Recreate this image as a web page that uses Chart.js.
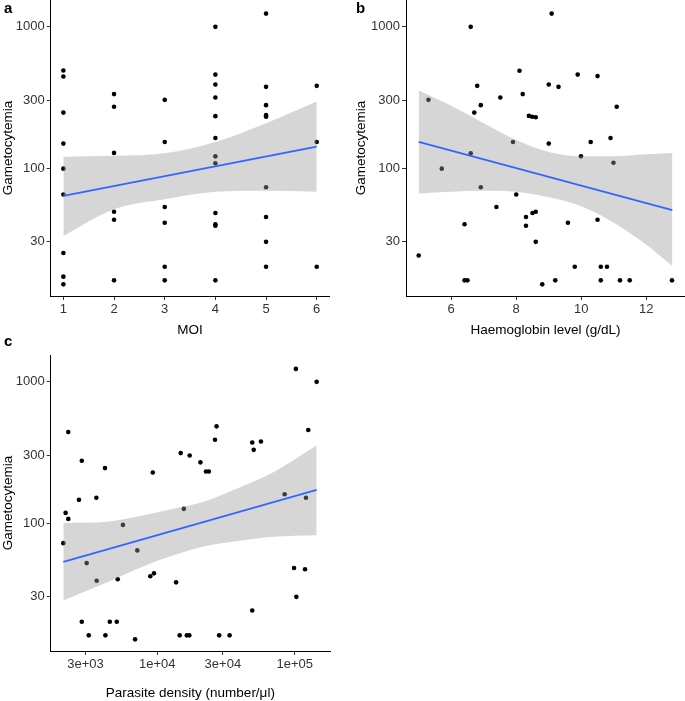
<!DOCTYPE html>
<html>
<head>
<meta charset="utf-8">
<script src="https://cdn.jsdelivr.net/npm/chart.js@4.4.0/dist/chart.umd.min.js"></script>
<style>
    html, body { margin: 0; padding: 0; background: #fff; }
    #page { position: relative; width: 685px; height: 701px; overflow: hidden; font-family: 'Liberation Sans', Arial, sans-serif; }
    .panel { position: absolute; }
    .panel canvas { display: block; }
    .tag { position: absolute; font-weight: bold; font-size: 15px; line-height: 15px; color: #000; }
</style>
</head>
<body>
<div id="page">
    <div class="panel" style="left:0px;top:0px"><canvas id="chart-a" width="335" height="340"></canvas></div>
    <div class="panel" style="left:353px;top:0px"><canvas id="chart-b" width="332" height="340"></canvas></div>
    <div class="panel" style="left:0px;top:330px"><canvas id="chart-c" width="335" height="371"></canvas></div>
    <div class="tag" style="left:4px;top:0px">a</div>
    <div class="tag" style="left:356px;top:0px">b</div>
    <div class="tag" style="left:4px;top:333px">c</div>
</div>
<script>
// Gametocytemia vs MOI, haemoglobin and parasite density (log y, lm fit + 95% band)

// shared y axis
const yTicks = [30, 100, 300, 1000];
const yMin = 12.4;
const yMax = 1550;

// panel a - MOI
const moiX = [1, 1, 1, 1, 1, 1, 1, 1, 1,
    2, 2, 2, 2, 2, 2,
    3, 3, 3, 3, 3, 3,
    4, 4, 4, 4, 4, 4, 4, 4, 4, 4, 4, 4,
    5, 5, 5, 5, 5, 5, 5, 5, 5,
    6, 6, 6];
const moiY = [491, 445, 247, 149, 99, 65, 25, 17, 15,
    334, 272, 128, 49, 43, 16,
    304, 153, 53, 41, 20, 16,
    1000, 459, 391, 316, 233, 163, 121, 108, 48, 40, 39, 16,
    1242, 376, 279, 237, 231, 73, 45, 30, 20,
    382, 153, 20];
const moiFitX = [1, 6];
const moiFitY = [63.6, 142];
const moiBandX = [1, 2, 3, 4, 5, 6];
const moiBandHi = [120, 122, 127, 153, 208, 296];
const moiBandLo = [33, 51, 60, 68, 69, 68];
const moiTicks = [1, 2, 3, 4, 5, 6];
const moiTickLabels = ['1', '2', '3', '4', '5', '6'];

// panel b - haemoglobin
const hbX = [6.6, 9.09, 8.1, 9.89, 10.5, 6.8, 9.0, 9.3, 5.3, 7.51, 8.2, 6.91, 11.09, 6.71,
    8.39, 8.49, 8.6, 7.9, 9.0, 10.29, 10.9, 6.6, 9.99, 10.99, 5.71,
    6.91, 8.0, 7.39, 8.3, 8.5, 8.6, 6.41, 8.3, 9.59, 10.5, 8.6, 5.0,
    9.8, 10.6, 10.79, 6.41, 6.5, 8.8, 9.2, 10.6, 11.19, 11.49, 12.79];
const hbY = [1000, 1242, 489, 459, 448, 382, 391, 376, 304, 316, 334, 279, 272, 247,
    234, 231, 229, 153, 149, 153, 163, 127, 121, 109, 99,
    73, 65, 53, 45, 48, 49, 40, 39, 41, 43, 30, 24,
    20, 20, 20, 16, 16, 15, 16, 16, 16, 16, 16];
const hbFitX = [5, 12.8];
const hbFitY = [153, 50.4];
const hbBandX = [5, 6, 7, 8, 9, 10, 11, 12, 12.8];
const hbBandHi = [354, 276, 208, 158, 130, 121, 121, 125, 128];
const hbBandLo = [66, 68, 69, 68, 62, 53.5, 41, 28.6, 20.2];
const hbTicks = [6, 8, 10, 12];
const hbTickLabels = ['6', '8', '10', '12'];

// panel c - parasite density
const pdX = [102000, 144500, 2250, 125600, 27000, 26300, 49100, 56800, 50300, 14800, 17200, 20600,
    22600, 23700, 2820, 4160, 9270, 2690, 3600, 2150, 2250, 15600, 84500, 120800,
    2070, 5620, 7150, 3060, 3620, 5150, 8890, 9460, 13700, 98900, 118900, 102800,
    49100, 2820, 4510, 5070, 3170, 4190, 6890, 14550, 16400, 17100, 28200, 33600];
const pdY = [1236, 1000, 441, 456, 484, 389, 372, 378, 330, 313, 301, 269,
    232, 232, 276, 245, 228, 146, 151, 118, 107, 126, 160, 151,
    72, 97, 64, 52, 39, 40, 42, 44, 38, 48, 47, 30,
    24, 20, 20, 20, 16, 16, 15, 16, 16, 16, 16, 16];
const pdFitX = [2070, 144500];
const pdFitY = [53, 172];
const pdBandX = [2070, 4290, 7480, 13100, 22900, 40000, 69800, 144500];
const pdBandHi = [100, 102, 112, 126, 144, 179, 229, 355];
const pdBandLo = [28.3, 37.9, 48.3, 59, 69, 75, 80, 82];
const pdTicks = [3000, 10000, 30000, 100000];
const pdTickLabels = ['3e+03', '1e+04', '3e+04', '1e+05'];

Chart.defaults.font.family = "'Liberation Sans', Arial, sans-serif";
Chart.defaults.animation = false;

const TICK_COLOR = '#333333';
const TITLE_COLOR = '#000000';
const BAND_COLOR = 'rgba(153, 153, 153, 0.4)';
const FIT_COLOR = '#3366FF';

function zip(xs, ys) {
    return xs.map((x, i) => ({ x: x, y: ys[i] }));
}

function createPanel(id, p) {
    const ctx = document.getElementById(id).getContext('2d');

    return new Chart(ctx, {
        type: 'scatter',
        data: {
            datasets: [
                {
                    data: zip(p.x, p.y),
                    pointRadius: 2.3,
                    pointBackgroundColor: '#000',
                    pointBorderWidth: 0,
                    order: 3
                },
                {
                    type: 'line',
                    data: zip(p.bandX, p.bandHi),
                    pointRadius: 0,
                    borderWidth: 0,
                    borderColor: 'rgba(0,0,0,0)',
                    cubicInterpolationMode: 'monotone',
                    fill: false,
                    order: 2
                },
                {
                    type: 'line',
                    data: zip(p.bandX, p.bandLo),
                    pointRadius: 0,
                    borderWidth: 0,
                    borderColor: 'rgba(0,0,0,0)',
                    backgroundColor: BAND_COLOR,
                    cubicInterpolationMode: 'monotone',
                    fill: '-1',
                    order: 2
                },
                {
                    type: 'line',
                    data: zip(p.fitX, p.fitY),
                    pointRadius: 0,
                    borderColor: FIT_COLOR,
                    borderWidth: 1.8,
                    fill: false,
                    order: 1
                }
            ]
        },
        options: {
            responsive: false,
            devicePixelRatio: 1,
            layout: { padding: p.padding, autoPadding: false },
            plugins: {
                legend: { display: false },
                tooltip: { enabled: false }
            },
            scales: {
                x: {
                    type: p.xType,
                    min: p.xMin,
                    max: p.xMax,
                    afterBuildTicks: function(scale) {
                        scale.ticks = p.xTicks.map(v => ({ value: v }));
                    },
                    afterFit: function(scale) {
                        scale.height = p.xHeight;
                        scale.paddingLeft = 0;
                        scale.paddingRight = 0;
                    },
                    ticks: {
                        autoSkip: false,
                        maxRotation: 0,
                        padding: 2,
                        color: TICK_COLOR,
                        font: { size: 13 },
                        callback: function(value) {
                            const i = p.xTicks.indexOf(value);
                            return i >= 0 ? p.xTickLabels[i] : '';
                        }
                    },
                    grid: { drawOnChartArea: false, drawTicks: true, tickLength: 4, color: '#333' },
                    border: { display: true, color: '#000', width: 1 },
                    title: {
                        display: true,
                        text: p.xTitle,
                        color: TITLE_COLOR,
                        font: { size: 13.5 },
                        padding: { top: 0, bottom: p.xTitlePad }
                    }
                },
                y: {
                    type: 'logarithmic',
                    min: yMin,
                    max: yMax,
                    afterBuildTicks: function(scale) {
                        scale.ticks = yTicks.map(v => ({ value: v }));
                    },
                    afterFit: function(scale) {
                        scale.width = p.yWidth;
                        scale.paddingTop = 0;
                        scale.paddingBottom = 0;
                    },
                    ticks: {
                        autoSkip: false,
                        padding: 2,
                        color: TICK_COLOR,
                        font: { size: 13 },
                        callback: function(value) {
                            return String(value);
                        }
                    },
                    grid: { drawOnChartArea: false, drawTicks: true, tickLength: 4, color: '#333' },
                    border: { display: true, color: '#000', width: 1 },
                    title: {
                        display: true,
                        text: 'Gametocytemia',
                        color: TITLE_COLOR,
                        font: { size: 13.5 },
                        padding: { top: 0, bottom: 0 }
                    }
                }
            }
        }
    });
}

createPanel('chart-a', {
    x: moiX, y: moiY,
    fitX: moiFitX, fitY: moiFitY,
    bandX: moiBandX, bandHi: moiBandHi, bandLo: moiBandLo,
    xType: 'linear', xMin: 0.75, xMax: 6.25,
    xTicks: moiTicks, xTickLabels: moiTickLabels,
    xTitle: 'MOI', xTitlePad: 1.5,
    padding: { left: 0, top: 0, right: 5.6, bottom: 0 },
    yWidth: 50.7, xHeight: 44
});

createPanel('chart-b', {
    x: hbX, y: hbY,
    fitX: hbFitX, fitY: hbFitY,
    bandX: hbBandX, bandHi: hbBandHi, bandLo: hbBandLo,
    xType: 'linear', xMin: 4.61, xMax: 13.19,
    xTicks: hbTicks, xTickLabels: hbTickLabels,
    xTitle: 'Haemoglobin level (g/dL)', xTitlePad: 1.5,
    padding: { left: 0, top: 0, right: 0, bottom: 0 },
    yWidth: 53, xHeight: 44
});

createPanel('chart-c', {
    x: pdX, y: pdY,
    fitX: pdFitX, fitY: pdFitY,
    bandX: pdBandX, bandHi: pdBandHi, bandLo: pdBandLo,
    xType: 'logarithmic', xMin: 1675, xMax: 180700,
    xTicks: pdTicks, xTickLabels: pdTickLabels,
    xTitle: 'Parasite density (number/\u03bcl)', xTitlePad: 0,
    padding: { left: 0, top: 25, right: 5, bottom: 0 },
    yWidth: 50.7, xHeight: 50
});
</script>
</body>
</html>
